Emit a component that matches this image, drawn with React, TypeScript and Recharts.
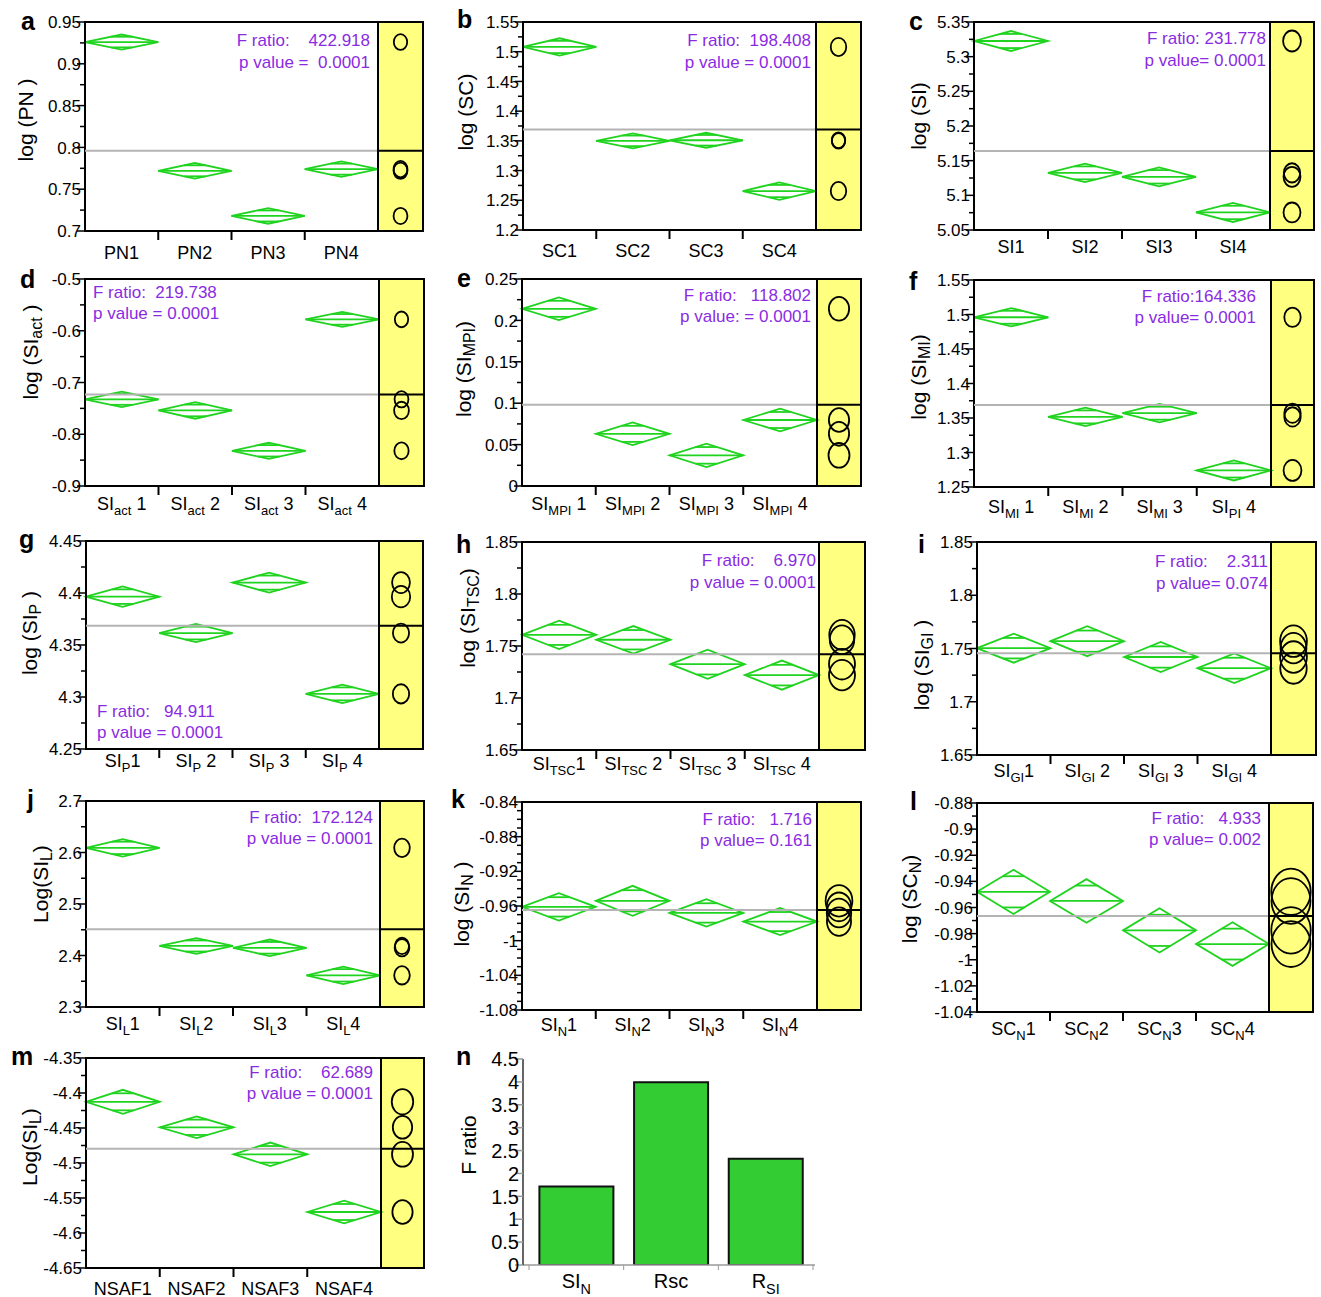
import React from "react";
import {
  Bar,
  BarChart,
  ComposedChart,
  ReferenceArea,
  ReferenceLine,
  XAxis,
  YAxis,
} from "recharts";

const FONT = '"Liberation Sans", Arial, Helvetica, sans-serif';
const GREEN = "#1fd31f";
const YELLOW = "#ffff80";
const PURPLE = "#8a2be2";
const CIRCLE_K = 1.05;

// a
const pnLabels = ["PN1", "PN2", "PN3", "PN4"];
const pnMeans = [0.926, 0.772, 0.718, 0.774];
const pnCI = [0.009, 0.0093, 0.0093, 0.0093];
const pnGrand = 0.796;
const pnTicks = [0.7, 0.75, 0.8, 0.85, 0.9, 0.95];

// b
const scLabels = ["SC1", "SC2", "SC3", "SC4"];
const scMeans = [1.508, 1.35, 1.351, 1.2655];
const scCI = [0.0146, 0.0126, 0.0126, 0.0146];
const scGrand = 1.369;
const scTicks = [1.2, 1.25, 1.3, 1.35, 1.4, 1.45, 1.5, 1.55];

// c
const siLabels = ["SI1", "SI2", "SI3", "SI4"];
const siMeans = [5.3226, 5.1324, 5.1267, 5.0753];
const siCI = [0.0144, 0.0132, 0.0137, 0.0137];
const siGrand = 5.164;
const siTicks = [5.05, 5.1, 5.15, 5.2, 5.25, 5.3, 5.35];

// d
const actLabels = ["SI_{act} 1", "SI_{act} 2", "SI_{act} 3", "SI_{act} 4"];
const actMeans = [-0.7325, -0.754, -0.832, -0.578];
const actCI = [0.015, 0.016, 0.0155, 0.0145];
const actGrand = -0.723;
const actTicks = [-0.9, -0.8, -0.7, -0.6, -0.5];

// e
const mpiLabels = ["SI_{MPI} 1", "SI_{MPI} 2", "SI_{MPI} 3", "SI_{MPI} 4"];
const mpiMeans = [0.214, 0.063, 0.037, 0.0797];
const mpiCI = [0.0137, 0.0137, 0.0142, 0.0137];
const mpiGrand = 0.098;
const mpiTicks = [0, 0.05, 0.1, 0.15, 0.2, 0.25];

// f
const miLabels = ["SI_{MI} 1", "SI_{MI} 2", "SI_{MI} 3", "SI_{PI} 4"];
const miMeans = [1.496, 1.3516, 1.357, 1.274];
const miCI = [0.0133, 0.0133, 0.0133, 0.0145];
const miGrand = 1.369;
const miTicks = [1.25, 1.3, 1.35, 1.4, 1.45, 1.5, 1.55];

// g
const pLabels = ["SI_{P}1", "SI_{P} 2", "SI_{P} 3", "SI_{P} 4"];
const pMeans = [4.3965, 4.3615, 4.41, 4.303];
const pCI = [0.0099, 0.0087, 0.0096, 0.0088];
const pGrand = 4.3686;
const pTicks = [4.25, 4.3, 4.35, 4.4, 4.45];

// h
const tscLabels = ["SI_{TSC}1", "SI_{TSC} 2", "SI_{TSC} 3", "SI_{TSC} 4"];
const tscMeans = [1.7607, 1.756, 1.7325, 1.722];
const tscCI = [0.0137, 0.0132, 0.014, 0.014];
const tscGrand = 1.742;
const tscTicks = [1.65, 1.7, 1.75, 1.8, 1.85];

// i
const giLabels = ["SI_{GI}1", "SI_{GI} 2", "SI_{GI} 3", "SI_{GI} 4"];
const giMeans = [1.7503, 1.7569, 1.742, 1.7315];
const giCI = [0.0136, 0.0141, 0.0141, 0.0139];
const giGrand = 1.7456;
const giTicks = [1.65, 1.7, 1.75, 1.8, 1.85];

// j
const slLabels = ["SI_{L}1", "SI_{L}2", "SI_{L}3", "SI_{L}4"];
const slMeans = [2.609, 2.4185, 2.415, 2.3615];
const slCI = [0.017, 0.0152, 0.016, 0.017];
const slGrand = 2.451;
const slTicks = [2.3, 2.4, 2.5, 2.6, 2.7];

// k
const snLabels = ["SI_{N}1", "SI_{N}2", "SI_{N}3", "SI_{N}4"];
const snMeans = [-0.961, -0.954, -0.968, -0.978];
const snCI = [0.0158, 0.0173, 0.0158, 0.0156];
const snGrand = -0.9645;
const snTicks = [-1.08, -1.04, -1, -0.96, -0.92, -0.88, -0.84];

// l
const scnLabels = ["SC_{N}1", "SC_{N}2", "SC_{N}3", "SC_{N}4"];
const scnMeans = [-0.948, -0.955, -0.9775, -0.988];
const scnCI = [0.0169, 0.0167, 0.0169, 0.0167];
const scnGrand = -0.9666;
const scnTicks = [-1.04, -1.02, -1, -0.98, -0.96, -0.94, -0.92, -0.9, -0.88];

// m
const nsafLabels = ["NSAF1", "NSAF2", "NSAF3", "NSAF4"];
const nsafMeans = [-4.4126, -4.449, -4.4876, -4.57];
const nsafCI = [0.0172, 0.0155, 0.0168, 0.0162];
const nsafGrand = -4.4795;
const nsafTicks = [-4.65, -4.6, -4.55, -4.5, -4.45, -4.4, -4.35];

// n
const fNames = ["SI_{N}", "Rsc", "R_{SI}"];
const fValues = [1.713, 3.99, 2.32];
const fTicks = [0, 0.5, 1, 1.5, 2, 2.5, 3, 3.5, 4, 4.5];

type Panel = {
  letter: string;
  title: string;
  labels: string[];
  means: number[];
  ci: number[];
  grand: number;
  majors: number[];
  minors: number;
  anova: [string, string];
  // layout (page px)
  L: number;
  Y: number;
  R: number;
  T: number;
  B: number;
  tickDy: number;
  titleX: number;
  titleY: number;
  letterX: number;
  letterBase: number;
  textX: number;
  textY: [number, number];
  textAlign: "left" | "right";
};

const panels: Panel[] = [
  { letter: "a", title: "log (PN )", labels: pnLabels, means: pnMeans, ci: pnCI, grand: pnGrand, majors: pnTicks, minors: 1,
    anova: ["F ratio:    422.918", "p value =  0.0001"],
    L: 85, Y: 378, R: 423, T: 22, B: 231, tickDy: 28, titleX: 25, titleY: 120, letterX: 21, letterBase: 30, textX: 370, textY: [40, 62], textAlign: "right" },
  { letter: "b", title: "log (SC)", labels: scLabels, means: scMeans, ci: scCI, grand: scGrand, majors: scTicks, minors: 1,
    anova: ["F ratio:  198.408", "p value = 0.0001"],
    L: 523, Y: 816, R: 861, T: 22, B: 230, tickDy: 27, titleX: 465, titleY: 112, letterX: 457, letterBase: 28, textX: 811, textY: [40, 62], textAlign: "right" },
  { letter: "c", title: "log (SI)", labels: siLabels, means: siMeans, ci: siCI, grand: siGrand, majors: siTicks, minors: 1,
    anova: ["F ratio: 231.778", "p value= 0.0001"],
    L: 974, Y: 1270, R: 1314, T: 22, B: 230, tickDy: 23, titleX: 918, titleY: 116, letterX: 909, letterBase: 30, textX: 1266, textY: [38, 60], textAlign: "right" },
  { letter: "d", title: "log (SI_{act} )", labels: actLabels, means: actMeans, ci: actCI, grand: actGrand, majors: actTicks, minors: 1,
    anova: ["F ratio:  219.738", "p value = 0.0001"],
    L: 85, Y: 379, R: 424, T: 279, B: 486, tickDy: 24, titleX: 30, titleY: 352, letterX: 20, letterBase: 288, textX: 93, textY: [292, 313], textAlign: "left" },
  { letter: "e", title: "log (SI_{MPI})", labels: mpiLabels, means: mpiMeans, ci: mpiCI, grand: mpiGrand, majors: mpiTicks, minors: 1,
    anova: ["F ratio:   118.802", "p value: = 0.0001"],
    L: 522, Y: 817, R: 861, T: 279, B: 486, tickDy: 24, titleX: 463, titleY: 369, letterX: 457, letterBase: 287, textX: 811, textY: [295, 316], textAlign: "right" },
  { letter: "f", title: "log (SI_{MI})", labels: miLabels, means: miMeans, ci: miCI, grand: miGrand, majors: miTicks, minors: 1,
    anova: ["F ratio:164.336", "p value= 0.0001"],
    L: 974, Y: 1271, R: 1314, T: 280, B: 487, tickDy: 26, titleX: 918, titleY: 377, letterX: 909, letterBase: 290, textX: 1256, textY: [296, 317], textAlign: "right" },
  { letter: "g", title: "log (SI_{P} )", labels: pLabels, means: pMeans, ci: pCI, grand: pGrand, majors: pTicks, minors: 1,
    anova: ["F ratio:   94.911", "p value = 0.0001"],
    L: 86, Y: 379, R: 423, T: 541, B: 749, tickDy: 18, titleX: 29, titleY: 633, letterX: 19, letterBase: 548, textX: 97, textY: [711, 732], textAlign: "left" },
  { letter: "h", title: "log (SI_{TSC})", labels: tscLabels, means: tscMeans, ci: tscCI, grand: tscGrand, majors: tscTicks, minors: 1,
    anova: ["F ratio:    6.970", "p value = 0.0001"],
    L: 522, Y: 819, R: 865, T: 542, B: 750, tickDy: 20, titleX: 467, titleY: 618, letterX: 456, letterBase: 553, textX: 816, textY: [560, 582], textAlign: "right" },
  { letter: "i", title: "log (SI_{GI} )", labels: giLabels, means: giMeans, ci: giCI, grand: giGrand, majors: giTicks, minors: 1,
    anova: ["F ratio:    2.311", "p value= 0.074"],
    L: 977, Y: 1271, R: 1316, T: 542, B: 755, tickDy: 22, titleX: 921, titleY: 665, letterX: 918, letterBase: 553, textX: 1268, textY: [561, 583], textAlign: "right" },
  { letter: "j", title: "Log(SI_{L})", labels: slLabels, means: slMeans, ci: slCI, grand: slGrand, majors: slTicks, minors: 1,
    anova: ["F ratio:  172.124", "p value = 0.0001"],
    L: 86, Y: 380, R: 424, T: 801, B: 1007, tickDy: 23, titleX: 40, titleY: 884, letterX: 27, letterBase: 808, textX: 373, textY: [817, 838], textAlign: "right" },
  { letter: "k", title: "log (SI_{N} )", labels: snLabels, means: snMeans, ci: snCI, grand: snGrand, majors: snTicks, minors: 3,
    anova: ["F ratio:   1.716", "p value= 0.161"],
    L: 522, Y: 817, R: 861, T: 802, B: 1010, tickDy: 21, titleX: 461, titleY: 904, letterX: 451, letterBase: 808, textX: 812, textY: [819, 840], textAlign: "right" },
  { letter: "l", title: "log (SC_{N})", labels: scnLabels, means: scnMeans, ci: scnCI, grand: scnGrand, majors: scnTicks, minors: 1,
    anova: ["F ratio:   4.933", "p value= 0.002"],
    L: 977, Y: 1269, R: 1313, T: 803, B: 1012, tickDy: 23, titleX: 909, titleY: 899, letterX: 910, letterBase: 810, textX: 1261, textY: [818, 839], textAlign: "right" },
  { letter: "m", title: "Log(SI_{L})", labels: nsafLabels, means: nsafMeans, ci: nsafCI, grand: nsafGrand, majors: nsafTicks, minors: 1,
    anova: ["F ratio:    62.689", "p value = 0.0001"],
    L: 86, Y: 381, R: 424, T: 1058, B: 1268, tickDy: 27, titleX: 29, titleY: 1147, letterX: 11, letterBase: 1065, textX: 373, textY: [1072, 1093], textAlign: "right" },
];

const splitSub = (s: string) => {
  const parts: { t: string; sub: boolean }[] = [];
  const re = /_\{([^}]*)\}/g;
  let last = 0;
  let m: RegExpExecArray | null;
  while ((m = re.exec(s))) {
    if (m.index > last) parts.push({ t: s.slice(last, m.index), sub: false });
    parts.push({ t: m[1], sub: true });
    last = m.index + m[0].length;
  }
  if (last < s.length) parts.push({ t: s.slice(last), sub: false });
  return parts;
};

const SubText = ({ x, y, text, size, anchor }: any) => {
  const parts = splitSub(text);
  const shift = Math.round(size * 0.3);
  let down = false;
  return (
    <text x={x} y={y} textAnchor={anchor} fontSize={size} fontFamily={FONT} fill="#000" style={{ whiteSpace: "pre" }}>
      {parts.map((pt, i) => {
        let dy = 0;
        if (pt.sub && !down) {
          dy = shift;
          down = true;
        } else if (!pt.sub && down) {
          dy = -shift;
          down = false;
        }
        return (
          <tspan key={i} dy={dy} fontSize={pt.sub ? size * 0.72 : size}>
            {pt.t}
          </tspan>
        );
      })}
    </text>
  );
};

const SubHtml = ({ text }: { text: string }) => (
  <>
    {splitSub(text).map((pt, i) =>
      pt.sub ? (
        <sub key={i} style={{ fontSize: "0.76em", verticalAlign: "-0.3em", lineHeight: 0 }}>
          {pt.t}
        </sub>
      ) : (
        <span key={i}>{pt.t}</span>
      )
    )}
  </>
);

const ValueTick = ({ x, y, payload, majors, size = 17, color = "#000" }: any) => {
  const v = payload.value;
  const isMajor = majors.some((m: number) => Math.abs(m - v) < 1e-9);
  return (
    <g>
      <line x1={x - (isMajor ? 8 : 5)} x2={x} y1={y} y2={y} stroke={color} strokeWidth={1.5} />
      {isMajor && (
        <text x={x - 4} y={y} dy="0.36em" textAnchor="end" fontSize={size} fontFamily={FONT} fill="#000">
          {String(v)}
        </text>
      )}
    </g>
  );
};

const GroupTick = ({ x, y, payload, labels, dy }: any) => {
  const v = payload.value;
  if (Number.isInteger(v)) {
    return <line x1={x} x2={x} y1={y} y2={y + 9} stroke="#000" strokeWidth={2} />;
  }
  return <SubText x={x} y={y + dy} text={labels[Math.floor(v)]} size={18} anchor="middle" />;
};

const Diamond = ({ x, y, width, height }: any) => {
  const cx = x + width / 2;
  const cy = y + height / 2;
  const f = Math.SQRT1_2;
  const mw = (width / 2) * (1 - f);
  const my = (height / 2) * f;
  return (
    <g fill="none" stroke={GREEN} strokeWidth={1.8}>
      <polygon points={`${x},${cy} ${cx},${y} ${x + width},${cy} ${cx},${y + height}`} />
      <line x1={x} x2={x + width} y1={cy} y2={cy} />
      <line x1={cx - mw} x2={cx + mw} y1={cy - my} y2={cy - my} />
      <line x1={cx - mw} x2={cx + mw} y1={cy + my} y2={cy + my} />
    </g>
  );
};

const CompareCircle = ({ x, y, width, height }: any) => {
  const ry = height / 2;
  return (
    <ellipse cx={x + width / 2} cy={y + ry} rx={ry * 0.85} ry={ry} fill="none" stroke="#000" strokeWidth={1.8} />
  );
};

const AnovaPanel = ({ p }: { p: Panel }) => {
  const plotW = p.R - p.L;
  const groupW = (p.Y - p.L) / 4;
  const xMax = plotW / groupW;
  const yMin = p.majors[0];
  const yMax = p.majors[p.majors.length - 1];
  const step = p.majors[1] - p.majors[0];
  const yTicks: number[] = [];
  p.majors.forEach((v, i) => {
    yTicks.push(v);
    if (i < p.majors.length - 1) {
      for (let k = 1; k <= p.minors; k++) yTicks.push(v + (step * k) / (p.minors + 1));
    }
  });
  const xTicks = [0.5, 1, 1.5, 2, 2.5, 3, 3.5];
  const width = plotW + 75 + 3;
  const height = p.B - p.T + 10 + 40;
  return (
    <div style={{ position: "absolute", left: p.L - 75, top: p.T - 10 }}>
      <ComposedChart width={width} height={height} margin={{ top: 10, right: 3, left: 0, bottom: 0 }}>
        <XAxis
          type="number"
          dataKey="x"
          domain={[0, xMax]}
          ticks={xTicks}
          interval={0}
          allowDataOverflow
          height={40}
          tickSize={0}
          tickMargin={0}
          axisLine={false}
          tickLine={false}
          tick={(tp: any) => <GroupTick {...tp} labels={p.labels} dy={p.tickDy} />}
        />
        <YAxis
          type="number"
          domain={[yMin, yMax]}
          ticks={yTicks}
          interval={0}
          allowDataOverflow
          width={75}
          tickSize={0}
          tickMargin={0}
          axisLine={false}
          tickLine={false}
          tick={(tp: any) => <ValueTick {...tp} majors={p.majors} />}
        />
        <ReferenceArea x1={4} x2={xMax} y1={yMin} y2={yMax} fill={YELLOW} fillOpacity={1} stroke="none" ifOverflow="visible" />
        <ReferenceLine
          segment={[{ x: 0, y: p.grand }, { x: 4, y: p.grand }]}
          stroke="#b4b4b4"
          strokeWidth={2}
          ifOverflow="visible"
        />
        <ReferenceLine
          segment={[{ x: 4, y: p.grand }, { x: xMax, y: p.grand }]}
          stroke="#000"
          strokeWidth={2}
          ifOverflow="visible"
        />
        <ReferenceLine x={4} stroke="#000" strokeWidth={2} ifOverflow="visible" />
        {p.means.map((m, i) => (
          <ReferenceArea
            key={"d" + i}
            x1={i}
            x2={i + 1}
            y1={m - p.ci[i]}
            y2={m + p.ci[i]}
            ifOverflow="visible"
            shape={(sp: any) => <Diamond {...sp} />}
          />
        ))}
        {p.means.map((m, i) => (
          <ReferenceArea
            key={"c" + i}
            x1={4}
            x2={xMax}
            y1={m - p.ci[i] * CIRCLE_K}
            y2={m + p.ci[i] * CIRCLE_K}
            ifOverflow="visible"
            shape={(sp: any) => <CompareCircle {...sp} />}
          />
        ))}
        <ReferenceArea x1={0} x2={xMax} y1={yMin} y2={yMax} fill="none" stroke="#000" strokeWidth={2} ifOverflow="visible" />
      </ComposedChart>
    </div>
  );
};

const BarTick = ({ x, y, payload }: any) => {
  const off = payload && payload.offset ? payload.offset : 0;
  const last = payload && payload.index === fNames.length - 1;
  return (
    <g>
      {off > 0 && <line x1={x - off} x2={x - off} y1={y} y2={y + 5} stroke="#999" strokeWidth={1} />}
      {off > 0 && last && <line x1={x + off} x2={x + off} y1={y} y2={y + 5} stroke="#999" strokeWidth={1} />}
      <SubText x={x} y={y + 23} text={payload.value} size={20} anchor="middle" />
    </g>
  );
};

const FRatioChart = () => {
  const data = fNames.map((name, i) => ({ name, value: fValues[i] }));
  const L = 523;
  const R = 815;
  const T = 1059;
  const B = 1265;
  return (
    <div style={{ position: "absolute", left: L - 75, top: T - 10 }}>
      <BarChart
        width={R - L + 75 + 3}
        height={B - T + 50}
        data={data}
        margin={{ top: 10, right: 3, left: 0, bottom: 0 }}
        barCategoryGap="11%"
      >
        <XAxis
          dataKey="name"
          padding={{ left: 6, right: 2 }}
          height={40}
          interval={0}
          tickSize={0}
          tickMargin={0}
          tickLine={false}
          axisLine={{ stroke: "#9a9a9a", strokeWidth: 1.5 }}
          tick={(tp: any) => <BarTick {...tp} />}
        />
        <YAxis
          domain={[0, 4.5]}
          ticks={fTicks}
          interval={0}
          allowDataOverflow
          width={75}
          tickSize={0}
          tickMargin={0}
          tickLine={false}
          axisLine={{ stroke: "#333", strokeWidth: 1.5 }}
          tick={(tp: any) => <ValueTick {...tp} majors={fTicks} size={20} color="#999" />}
        />
        <Bar dataKey="value" fill="#33cc33" stroke="#111" strokeWidth={2} isAnimationActive={false} />
      </BarChart>
    </div>
  );
};

const abs = (left: number, top: number, extra: React.CSSProperties = {}): React.CSSProperties => ({
  position: "absolute",
  left,
  top,
  fontFamily: FONT,
  whiteSpace: "pre",
  ...extra,
});

const App = () => {
  return (
    <div style={{ fontFamily: FONT }}>
      <style>{"body{overflow:hidden}"}</style>
      {panels.map((p) => (
        <AnovaPanel key={p.letter} p={p} />
      ))}
      <FRatioChart />
      {panels.map((p) => (
        <React.Fragment key={"t" + p.letter}>
          <div style={abs(p.letterX, p.letterBase - 21, { fontSize: 25, fontWeight: "bold", lineHeight: "25px" })}>
            {p.letter}
          </div>
          <div
            style={abs(p.titleX, p.titleY, {
              fontSize: 21,
              lineHeight: 1,
              transform: "translate(-50%, -50%) rotate(-90deg)",
            })}
          >
            <SubHtml text={p.title} />
          </div>
          {p.anova.map((line, i) => (
            <div
              key={i}
              style={abs(p.textX, p.textY[i], {
                fontSize: 17,
                lineHeight: 1,
                color: PURPLE,
                transform: p.textAlign === "right" ? "translate(-100%, -50%)" : "translate(0, -50%)",
              })}
            >
              {line}
            </div>
          ))}
        </React.Fragment>
      ))}
      <div style={abs(456, 1065 - 21, { fontSize: 25, fontWeight: "bold", lineHeight: "25px" })}>n</div>
      <div
        style={abs(468, 1145, {
          fontSize: 21,
          lineHeight: 1,
          transform: "translate(-50%, -50%) rotate(-90deg)",
        })}
      >
        F ratio
      </div>
    </div>
  );
};

export default App;
